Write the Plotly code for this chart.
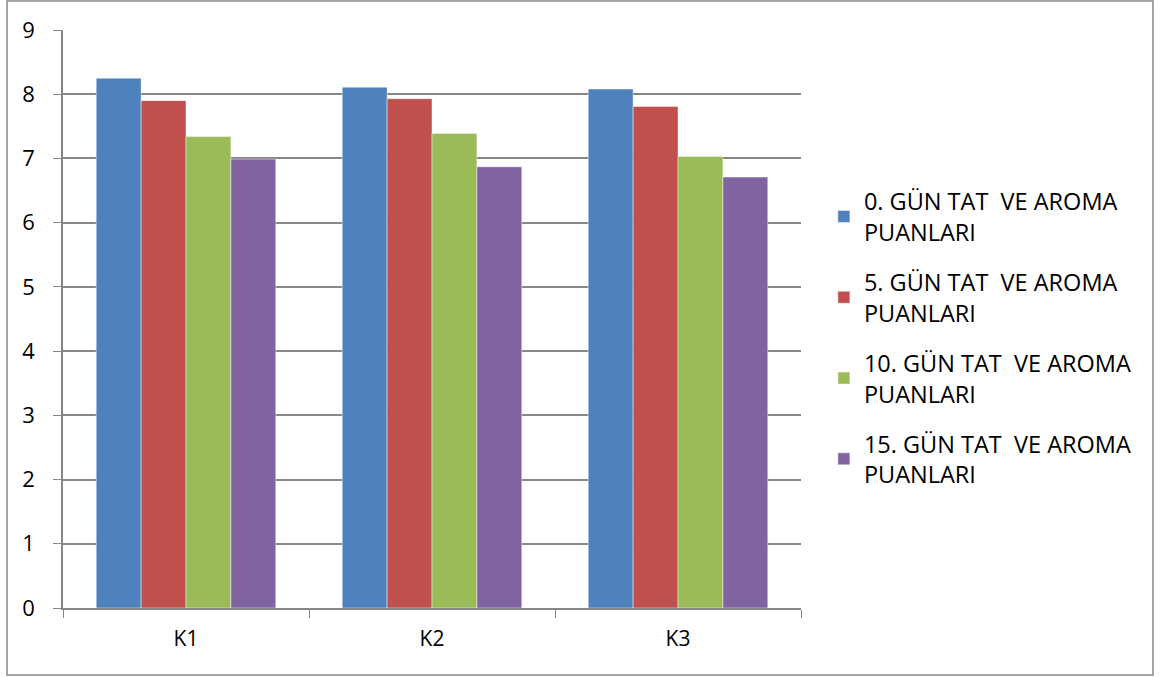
import plotly.graph_objects as go

categories = ["K1", "K2", "K3"]
series_names = [
    "0. GÜN TAT  VE AROMA<br>PUANLARI",
    "5. GÜN TAT  VE AROMA<br>PUANLARI",
    "10. GÜN TAT  VE AROMA<br>PUANLARI",
    "15. GÜN TAT  VE AROMA<br>PUANLARI",
]
day0 = [8.25, 8.11, 8.08]
day5 = [7.90, 7.93, 7.81]
day10 = [7.34, 7.39, 7.03]
day15 = [6.99, 6.87, 6.71]
colors = ["#4F81BD", "#C0504D", "#9BBB59", "#8064A2"]
y_ticks = list(range(0, 10))

font_family = "'Open Sans', Lato, Arial, sans-serif"

fig = go.Figure()
for i, (name, vals, col) in enumerate(zip(series_names, [day0, day5, day10, day15], colors)):
    fig.add_trace(go.Bar(
        x=categories, y=vals, name=name, legendgroup=f"g{i}",
        marker=dict(color=col, line=dict(color="rgba(255,255,255,0.45)", width=1)),
    ))

fig.update_layout(
    width=1161, height=677,
    margin=dict(l=63, r=360, t=30, b=69),
    paper_bgcolor="white", plot_bgcolor="white",
    barmode="group", bargap=0.27, bargroupgap=0,
    font=dict(family=font_family, size=21, color="black"),
    showlegend=True,
    legend=dict(
        x=1.031, y=0.7415, xanchor="left", yanchor="top",
        font=dict(family=font_family, size=23.5, color="black"),
        tracegroupgap=16.7, itemwidth=30,
        bgcolor="rgba(0,0,0,0)",
    ),
    xaxis=dict(
        type="category", tickson="boundaries", ticks="outside", ticklen=8,
        tickcolor="#868686", showline=True, linecolor="#868686", linewidth=1.5,
        showgrid=False, tickfont=dict(size=21), ticklabelstandoff=11,
    ),
    yaxis=dict(
        range=[0, 9], tickvals=y_ticks, ticks="outside", ticklen=8,
        tickcolor="#868686", showline=True, linecolor="#868686", linewidth=1.5,
        showgrid=True, gridcolor="#868686", gridwidth=1.5,
        tickfont=dict(size=22), ticklabelstandoff=14, zeroline=False,
    ),
    shapes=[dict(
        type="rect", xref="paper", yref="paper",
        x0=(7 - 63) / 738, x1=(1153 - 63) / 738,
        y0=(608 - 675) / 578, y1=(608 - 1) / 578,
        line=dict(color="#868686", width=1.5), fillcolor="rgba(0,0,0,0)",
        layer="below",
    )],
)

fig.write_html("out.html")
